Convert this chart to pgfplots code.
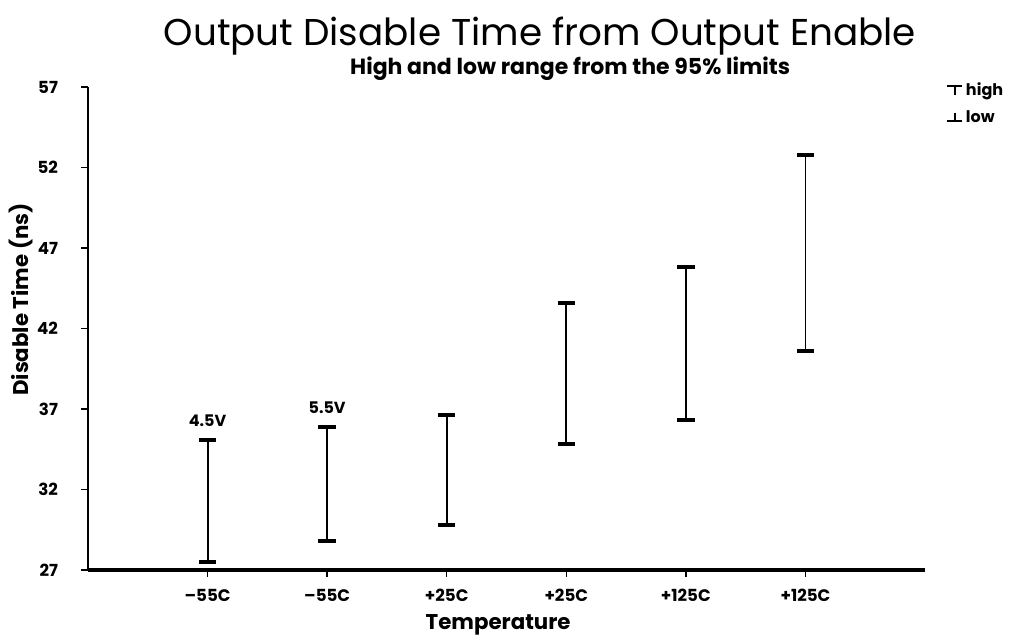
\documentclass[border=0pt]{standalone}
\usepackage{pgfplots}
\pgfplotsset{compat=1.18}
\usepackage{pgfplotstable}
\usepackage{fontspec}
\setmainfont{Poppins}
\pgfplotstableread{
x lo hi
0 27.5 35.1
1 28.8 35.9
2 29.8 36.6
3 34.8 43.6
4 36.3 45.8
5 40.6 52.8
}\ranges
\begin{document}
\begin{tikzpicture}
\begin{axis}[
  name=ax,
  scale only axis,
  width=627.75pt, height=362.25pt,
  xmin=-1, xmax=6, ymin=27, ymax=57,
  axis lines=left,
  axis line style={-},
  x axis line style={line width=2.4pt},
  y axis line style={line width=1.1pt},
  xtick={0,1,2,3,4,5},
  xticklabels={--55C,--55C,+25C,+25C,+125C,+125C},
  ytick={27,32,37,42,47,52,57},
  tick align=outside,
  major tick length=5pt,
  tick style={line width=1pt, black},
  /pgf/number format/assume math mode=true,
  ticklabel style={font=\bfseries\fontsize{12.5}{14}\selectfont},
  xticklabel style={yshift=-6pt},
  yticklabel style={xshift=-14pt},
  xlabel={Temperature},
  ylabel={Disable Time (ns)},
  xlabel style={font=\bfseries\fontsize{16}{19}\selectfont, at={(rel axis cs:0.49,0)}, anchor=north, yshift=-30pt},
  ylabel style={font=\bfseries\fontsize{16}{19}\selectfont, at={(rel axis cs:-0.06,0.56)}},
  clip=false,
  legend style={draw=none, fill=none, at={(rel axis cs:1.02,1.02)}, anchor=north west,
    font=\bfseries\fontsize{12}{14}\selectfont, row sep=6pt},
  legend cell align=left,
]
\addplot[draw=none, mark=none, forget plot,
  error bars/.cd, y dir=both, y explicit,
  error bar style={line width=1.4pt, black},
  error mark options={rotate=90, line width=3pt, mark size=6.5pt, black}]
  table[x=x, y expr=(\thisrow{lo}+\thisrow{hi})/2, y error expr=(\thisrow{hi}-\thisrow{lo})/2] {\ranges};
\addlegendimage{legend image code/.code={\draw[line width=1.6pt] (0.05cm,0.12cm) -- (0.45cm,0.12cm); \draw[line width=1.6pt] (0.25cm,0.12cm) -- (0.25cm,-0.12cm);}}
\addlegendentry{high}
\addlegendimage{legend image code/.code={\draw[line width=1.6pt] (0.05cm,-0.08cm) -- (0.45cm,-0.08cm); \draw[line width=1.6pt] (0.25cm,-0.08cm) -- (0.25cm,0.12cm);}}
\addlegendentry{low}
\node[font=\bfseries\fontsize{12}{14}\selectfont, anchor=south] at (axis cs:0,35.6) {4.5V};
\node[font=\bfseries\fontsize{12}{14}\selectfont, anchor=south] at (axis cs:1,36.4) {5.5V};
\node[font=\fontsize{28}{31}\selectfont] at (rel axis cs:0.54,1.105) {Output Disable Time from Output Enable};
\node[font=\bfseries\fontsize{16.5}{19}\selectfont] at (rel axis cs:0.576,1.037) {High and low range from the 95\% limits};
\end{axis}
\path (ax.south west) ++(-66pt,-51.75pt) coordinate (bbl);
\path (ax.north east) ++(72pt,65.25pt) coordinate (btr);
\useasboundingbox (bbl) rectangle (btr);
\end{tikzpicture}
\end{document}
